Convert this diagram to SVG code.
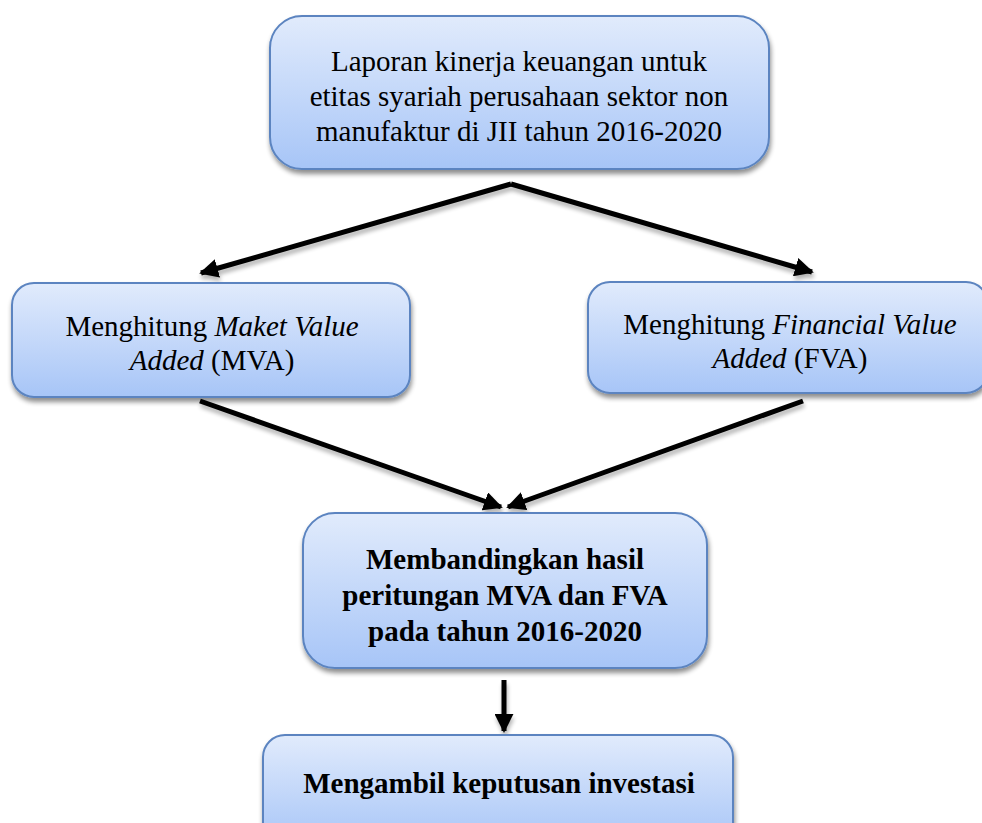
<svg xmlns="http://www.w3.org/2000/svg" width="982" height="823" viewBox="0 0 982 823">
<defs>
<linearGradient id="g" x1="0" y1="0" x2="0" y2="1">
<stop offset="0" stop-color="#e1ebfc"/>
<stop offset="1" stop-color="#a7c5f7"/>
</linearGradient>
<filter id="sh" x="-10%" y="-10%" width="120%" height="130%">
<feGaussianBlur in="SourceAlpha" stdDeviation="2.5"/>
<feOffset dx="1" dy="4" result="b"/>
<feComponentTransfer><feFuncA type="linear" slope="0.45"/></feComponentTransfer>
<feMerge><feMergeNode/><feMergeNode in="SourceGraphic"/></feMerge>
</filter>
<filter id="lsh" x="-10%" y="-20%" width="120%" height="150%">
<feGaussianBlur in="SourceAlpha" stdDeviation="2"/>
<feOffset dx="1" dy="4" result="b"/>
<feComponentTransfer><feFuncA type="linear" slope="0.3"/></feComponentTransfer>
<feMerge><feMergeNode/><feMergeNode in="SourceGraphic"/></feMerge>
</filter>
<marker id="ah" viewBox="0 0 10 10" refX="9" refY="5" markerWidth="3.8" markerHeight="3.8" orient="auto" markerUnits="strokeWidth">
<path d="M0,0 L10,5 L0,10 z" fill="#000"/>
</marker>
</defs>
<style>
.box{fill:url(#g);stroke:#5b84c0;stroke-width:2;filter:url(#sh)}
.t{font-family:"Liberation Serif","Times New Roman",serif;font-size:29px;fill:#000;text-anchor:middle}
.b{font-weight:bold}
.i{font-style:italic}
.c{stroke:#000;stroke-width:5;fill:none;marker-end:url(#ah)}
</style>
<rect width="982" height="823" fill="#fff"/>
<g id="connectors" filter="url(#lsh)">
<line class="c" x1="511" y1="184" x2="201" y2="273"/>
<line class="c" x1="511" y1="184" x2="812" y2="272"/>
<line class="c" x1="200" y1="401" x2="501" y2="507"/>
<line class="c" x1="803" y1="401" x2="508" y2="507"/>
<line class="c" x1="504" y1="680" x2="504" y2="731"/>
</g>
<g id="node-laporan">
<rect class="box" x="270" y="16" width="499" height="153" rx="32"/>
<text class="t" x="519" y="71">Laporan kinerja keuangan untuk</text>
<text class="t" x="519" y="106">etitas syariah perusahaan sektor non</text>
<text class="t" x="519" y="141">manufaktur di JII tahun 2016-2020</text>
</g>
<g id="node-mva">
<rect class="box" x="12" y="283" width="398" height="114" rx="22"/>
<text class="t" x="212" y="336">Menghitung <tspan class="i">Maket Value</tspan></text>
<text class="t" x="212" y="370"><tspan class="i">Added</tspan> (MVA)</text>
</g>
<g id="node-fva">
<rect class="box" x="588" y="282" width="400" height="111" rx="22"/>
<text class="t" x="790" y="334">Menghitung <tspan class="i">Financial Value</tspan></text>
<text class="t" x="790" y="368"><tspan class="i">Added</tspan> (FVA)</text>
</g>
<g id="node-membandingkan">
<rect class="box" x="303" y="513" width="404" height="155" rx="32"/>
<text class="t b" x="505" y="569">Membandingkan hasil</text>
<text class="t b" x="505" y="605">peritungan MVA dan FVA</text>
<text class="t b" x="505" y="641">pada tahun 2016-2020</text>
</g>
<g id="node-keputusan">
<rect class="box" x="263" y="735" width="470" height="110" rx="22"/>
<text class="t b" x="499" y="793">Mengambil keputusan investasi</text>
</g>
</svg>
